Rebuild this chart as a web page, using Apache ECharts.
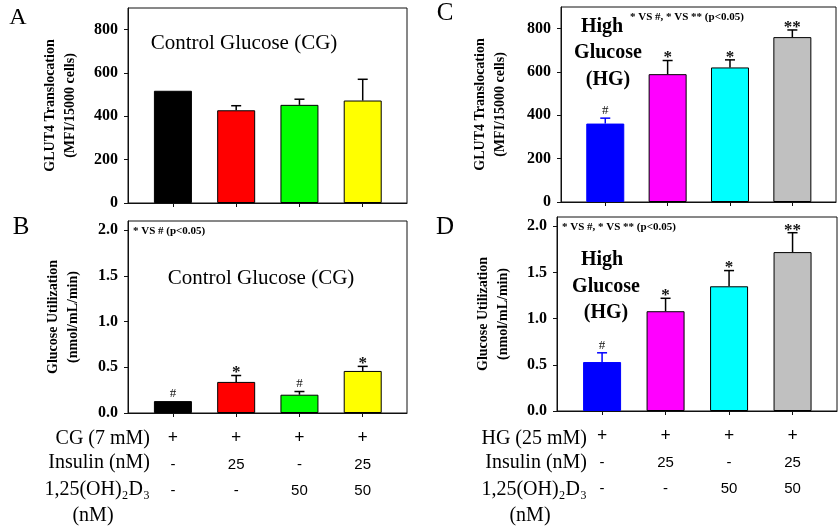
<!DOCTYPE html>
<html><head><meta charset="utf-8">
<script src="https://cdn.jsdelivr.net/npm/echarts@6/dist/echarts.min.js"></script>
<style>html,body{margin:0;padding:0;background:#fff}#c{width:840px;height:527px}</style>
</head><body><div id="c"></div>
<script>
// ---- data ----
const groupIndex = [0, 1, 2, 3];
const cgColors = ['#000000', '#FF0000', '#00FF00', '#FFFF00'];
const hgColors = ['#0000FF', '#FF00FF', '#00FFFF', '#C0C0C0'];
const cgBorder = ['#000000', '#000000', '#000000', '#000000'];
const hgBorder = ['#0000FF', '#000000', '#000000', '#000000'];
const glutCG = [518, 428, 453, 473];
const glutCGErr = [0, 21, 26, 98];
const glutHG = [362, 590, 621, 761];
const glutHGErr = [25, 63, 35, 33];
const utilCG = [0.13, 0.34, 0.20, 0.46];
const utilCGErr = [0, 0.07, 0.035, 0.05];
const utilHG = [0.53, 1.08, 1.35, 1.72];
const utilHGErr = [0.10, 0.14, 0.17, 0.21];
const sigA = ['', '', '', ''];
const sigB = ['#', '*', '#', '*'];
const sigC = ['#', '*', '*', '**'];
const sigD = ['#', '*', '*', '**'];
const glucoseRow = ['+', '+', '+', '+'];
const insulinRow = ['-', '25', '-', '25'];
const vitDRow = ['-', '-', '50', '50'];
const glutTicks = [0, 200, 400, 600, 800];
const utilTicks = [0, 0.5, 1.0, 1.5, 2.0];

const SERIF = 'Liberation Serif';
const chart = echarts.init(document.getElementById('c'));

const grids = [
  {left: 128, top: 8, width: 279, height: 195},   // A
  {left: 128, top: 221, width: 279, height: 192}, // B
  {left: 561, top: 7, width: 275, height: 195},   // C
  {left: 557, top: 217, width: 280, height: 194}  // D
].map(g => Object.assign(g, {show: true, borderColor: '#111', borderWidth: 1, backgroundColor: 'transparent', containLabel: false}));

function tableLabel(v) {
  const i = Math.round(v);
  return '{p|' + glucoseRow[i] + '}\n{n|' + insulinRow[i] + '}\n{n|' + vitDRow[i] + '}';
}

function xAxis(k, withTable) {
  return {
    type: 'value', gridIndex: k, min: -0.71, max: 3.70,
    splitLine: {show: false},
    axisLine: {show: true, onZero: false, lineStyle: {color: '#111', width: 1}},
    axisTick: {show: true, customValues: groupIndex, length: 4, lineStyle: {color: '#111'}},
    axisLabel: withTable ? {
      show: true, customValues: groupIndex, formatter: tableLabel, margin: 12,
      rich: {
        p: {fontFamily: SERIF, fontWeight: 'bold', fontSize: 18, lineHeight: 26.5, color: '#000'},
        n: {fontFamily: 'Liberation Sans', fontSize: 15, lineHeight: 26.5, color: '#000'}
      }
    } : {show: false}
  };
}

function yAxis(k, max, ticks, name, gap, dec) {
  return {
    type: 'value', gridIndex: k, min: 0, max: max,
    splitLine: {show: false},
    axisLine: {show: true, onZero: false, lineStyle: {color: '#111', width: 1}},
    axisTick: {show: true, customValues: ticks, length: 4, lineStyle: {color: '#111'}},
    axisLabel: {customValues: ticks, margin: 10, color: '#000',
      fontFamily: SERIF, fontWeight: 'bold', fontSize: 16,
      formatter: v => dec ? v.toFixed(1) : String(v)},
    name: name, nameLocation: 'middle', nameRotate: 90, nameGap: gap,
    nameTextStyle: {fontFamily: SERIF, fontWeight: 'bold', fontSize: 14, color: '#000', lineHeight: 20}
  };
}

function barSeries(k, vals, colors, borders) {
  return {
    type: 'bar', xAxisIndex: k, yAxisIndex: k, barWidth: 38,
    data: vals.map((v, i) => ({value: [groupIndex[i], v], itemStyle: {color: colors[i], borderColor: borders[i], borderWidth: 1}})),
    silent: true, animation: false
  };
}

function errSeries(k, vals, errs, borders, sigs) {
  return {
    type: 'custom', xAxisIndex: k, yAxisIndex: k, animation: false, silent: true, z: 5,
    data: vals.map((v, i) => [groupIndex[i], v, errs[i]]),
    renderItem: function (params, api) {
      const idx = params.dataIndex;
      const x = api.value(0), m = api.value(1), e = api.value(2);
      const base = api.coord([x, m]);
      const top = api.coord([x, m + e]);
      const c = borders[idx];
      const ch = [];
      if (e > 0) {
        ch.push({type: 'line', shape: {x1: base[0], y1: base[1], x2: top[0], y2: top[1]}, style: {stroke: c, lineWidth: 1.5}});
        ch.push({type: 'line', shape: {x1: top[0] - 5, y1: top[1], x2: top[0] + 5, y2: top[1]}, style: {stroke: c, lineWidth: 1.5}});
      }
      const s = sigs[idx];
      if (s) {
        const star = s.indexOf('*') >= 0;
        ch.push({type: 'text', x: top[0], y: top[1] + (star ? 6 : -1),
          style: {text: s, textAlign: 'center', textVerticalAlign: 'bottom', fill: '#111',
            fontFamily: SERIF, fontWeight: star ? 'bold' : 'normal', fontSize: star ? 17 : 13}});
      }
      return {type: 'group', children: ch};
    }
  };
}

function txt(x, y, text, size, weight, align) {
  return {type: 'text', x: x, y: y, silent: true,
    style: {text: text, fontFamily: SERIF, fontSize: size, fontWeight: weight || 'normal',
      fill: '#000', textAlign: align || 'center', textVerticalAlign: 'middle'}};
}

const graphics = [
  txt(18, 18, 'A', 24),
  txt(21, 227, 'B', 25),
  txt(445, 13, 'C', 25),
  txt(445, 227, 'D', 25),
  txt(244, 43, 'Control Glucose (CG)', 21),
  txt(261, 278, 'Control Glucose (CG)', 21),
  txt(133, 231, '* VS # (p<0.05)', 11, 'bold', 'left'),
  txt(630, 17, '* VS #, * VS ** (p<0.05)', 11, 'bold', 'left'),
  txt(562, 227, '* VS #, * VS ** (p<0.05)', 11, 'bold', 'left'),
  txt(602, 27, 'High', 20, 'bold'),
  txt(608, 53, 'Glucose', 20, 'bold'),
  txt(608, 80, '(HG)', 20, 'bold'),
  txt(602, 260, 'High', 20, 'bold'),
  txt(606, 287, 'Glucose', 20, 'bold'),
  txt(606, 313, '(HG)', 20, 'bold'),
  txt(150, 439, 'CG (7 mM)', 20, 'normal', 'right'),
  txt(150, 463, 'Insulin (nM)', 20, 'normal', 'right'),
  txt(150, 490, '1,25(OH)\u2082D\u2083', 20, 'normal', 'right'),
  txt(93, 516, '(nM)', 20),
  txt(587, 439, 'HG (25 mM)', 20, 'normal', 'right'),
  txt(587, 463, 'Insulin (nM)', 20, 'normal', 'right'),
  txt(587, 490, '1,25(OH)\u2082D\u2083', 20, 'normal', 'right'),
  txt(530, 516, '(nM)', 20)
];

chart.setOption({
  animation: false,
  backgroundColor: '#fff',
  grid: grids,
  xAxis: [xAxis(0, false), xAxis(1, true), xAxis(2, false), xAxis(3, true)],
  yAxis: [
    yAxis(0, 900, glutTicks, 'GLUT4 Translocation\n(MFI/15000 cells)', 48, false),
    yAxis(1, 2.1, utilTicks, 'Glucose Utilization\n(nmol/mL/min)', 45, true),
    yAxis(2, 900, glutTicks, 'GLUT4 Translocation\n(MFI/15000 cells)', 51, false),
    yAxis(3, 2.1, utilTicks, 'Glucose Utilization\n(nmol/mL/min)', 44, true)
  ],
  series: [
    barSeries(0, glutCG, cgColors, cgBorder), errSeries(0, glutCG, glutCGErr, cgBorder, sigA),
    barSeries(1, utilCG, cgColors, cgBorder), errSeries(1, utilCG, utilCGErr, cgBorder, sigB),
    barSeries(2, glutHG, hgColors, hgBorder), errSeries(2, glutHG, glutHGErr, hgBorder, sigC),
    barSeries(3, utilHG, hgColors, hgBorder), errSeries(3, utilHG, utilHGErr, hgBorder, sigD)
  ],
  graphic: graphics
});
</script></body></html>
